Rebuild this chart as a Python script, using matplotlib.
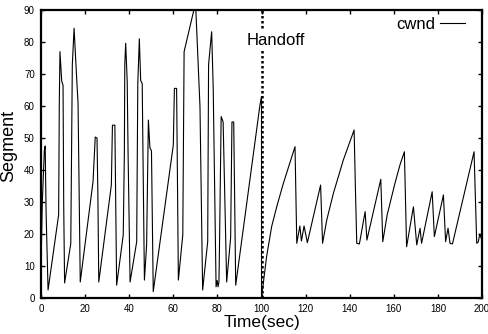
import matplotlib
matplotlib.use("Agg")
import matplotlib.pyplot as plt

# ---- data ----
time_sec = [
    0.0, 0.6, 1.5, 1.9, 2.3, 3.2,
    8.0, 8.3, 8.6, 9.4, 10.0, 10.3, 10.7,
    13.5, 14.2, 15.0, 16.3, 16.8, 17.8,
    23.6, 24.6, 25.4, 25.8, 26.2,
    31.9, 32.4, 33.5, 34.3,
    37.3, 37.8, 38.0, 38.4, 39.1, 39.5, 40.4,
    43.4, 43.9, 44.6, 45.2, 45.9, 46.3, 46.9,
    47.9, 48.7, 49.4, 50.1, 50.9,
    60.0, 60.5, 61.5, 62.3,
    64.3, 64.9, 69.5, 70.2, 72.1, 73.3,
    75.6, 76.0, 77.4, 78.1, 79.4, 79.9, 80.3, 80.7,
    81.0, 81.7, 82.6, 84.2,
    86.0, 86.6, 87.4, 88.3,
    99.3, 100.0, 100.0,
    102.3, 104.6, 106.9, 109.9, 115.2, 116.0,
    117.4, 118.1, 119.3, 120.8,
    126.8, 127.7, 129.6, 132.6, 137.1, 142.0, 142.6, 143.2, 144.4,
    147.0, 147.8, 154.1, 155.0, 157.0, 160.5, 162.8, 164.8, 165.8,
    168.9, 170.4, 171.9, 172.6, 177.4, 178.4, 182.5, 183.5,
    184.6, 185.5, 186.6, 196.4, 197.6, 198.3, 199.0, 200.0,
]
cwnd = [
    10.0, 30.0, 46.0, 47.5, 27.0, 2.5,
    26.0, 61.0, 77.0, 67.7, 66.5, 29.0, 4.7,
    17.0, 72.8, 84.3, 67.0, 61.0, 5.0,
    36.4, 50.3, 50.0, 32.0, 5.0,
    35.3, 54.0, 54.0, 4.0,
    19.7, 45.0, 72.8, 79.6, 67.7, 44.7, 5.0,
    17.6, 67.0, 81.0, 68.0, 67.0, 41.6, 5.6,
    16.6, 55.6, 46.9, 46.0, 2.0,
    47.8, 65.5, 65.5, 5.6,
    19.7, 77.0, 90.5, 90.5, 59.8, 2.5,
    17.6, 73.0, 83.2, 65.5, 3.5, 5.5, 3.5, 5.0,
    18.8, 56.7, 55.0, 5.0,
    18.8, 55.0, 55.0, 4.0,
    60.3, 63.0, 0.0,
    12.9, 22.3, 28.5, 35.8, 47.3, 17.1,
    22.5, 17.8, 22.5, 17.3,
    35.3, 17.1, 24.4, 32.7, 43.1, 52.5, 34.0, 17.1, 16.9,
    27.0, 18.1, 37.1, 17.6, 26.0, 35.8, 41.6, 45.7, 16.0,
    28.5, 16.6, 21.8, 17.1, 33.2, 19.2, 32.2, 17.6,
    21.8, 17.1, 16.9, 45.7, 17.1, 17.5, 20.0, 18.0,
]
handoff_time = 100
x_ticks = list(range(0, 201, 20))
y_ticks = list(range(0, 91, 10))

plt.rcParams['font.family'] = ['Liberation Sans', 'DejaVu Sans']

fig = plt.figure(figsize=(4.88, 3.34), dpi=100)
ax = fig.add_axes([41 / 488, 36 / 334, 441 / 488, 288 / 334])

ax.plot(time_sec, cwnd, color='black', linewidth=0.8, label='cwnd')
ax.axvline(handoff_time, color='black', linewidth=1.8, linestyle=(0, (1, 1)))
ax.text(106.4, 80.6, 'Handoff', fontsize=12, ha='center', va='center',
        bbox=dict(facecolor='white', edgecolor='none', pad=1))

ax.set_xlim(0, 200)
ax.set_ylim(0, 90)
ax.set_xticks(x_ticks)
ax.set_yticks(y_ticks)
ax.tick_params(direction='in', length=3, width=1, labelsize=7,
               top=True, right=True, pad=4.5)
for s in ax.spines.values():
    s.set_linewidth(1.6)

ax.set_xlabel('Time(sec)', fontsize=12.5)
ax.set_ylabel('Segment', fontsize=13)
ax.xaxis.set_label_coords(0.5, -0.058)
ax.yaxis.set_label_coords(-0.055, 0.528)

ax.legend(loc='upper right', bbox_to_anchor=(0.961, 0.976), frameon=False,
          markerfirst=False, fontsize=12, handlelength=1.5, handletextpad=0.25,
          borderpad=0, borderaxespad=0)

fig.savefig('out.png', dpi=100)
